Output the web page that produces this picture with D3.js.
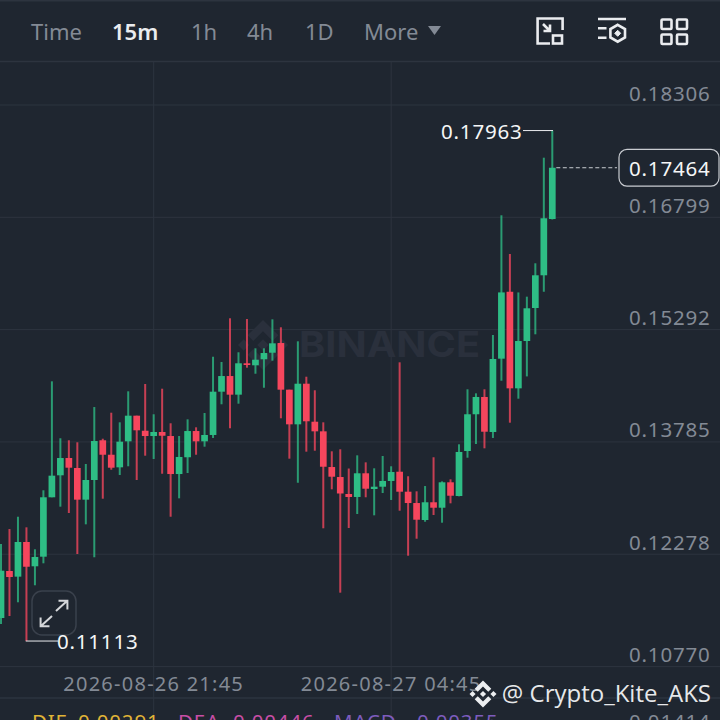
<!DOCTYPE html>
<html>
<head>
<meta charset="utf-8">
<title>Candles</title>
<script src="https://cdn.jsdelivr.net/npm/d3@7"></script>
<style>
	html, body { margin: 0; padding: 0; background: #1f2630; }
	svg { display: block; }
	text { font-family: "Noto Sans", sans-serif; }
	.num { font-size: 20.5px; letter-spacing: 0.8px; }
</style>
</head>
<body>
<svg id="chart"></svg>
<script>
// 15m candles
const opens = [0.11422,0.12053,0.11977,0.12442,0.12116,0.12245,0.13042,0.13337,0.13569,0.13435,0.13010,0.13274,0.13807,0.13613,0.13444,0.13793,0.14137,0.13935,0.13864,0.13918,0.13864,0.13354,0.13579,0.13931,0.13793,0.13878,0.14459,0.14669,0.14419,0.14840,0.14813,0.14894,0.14982,0.15112,0.14486,0.14021,0.14566,0.14056,0.13927,0.13448,0.13314,0.13086,0.13046,0.13364,0.13153,0.13184,0.13261,0.13385,0.13117,0.12965,0.12737,0.12975,0.12902,0.13243,0.13059,0.13663,0.14156,0.14388,0.13918,0.14902,0.15800,0.14504,0.15139,0.15582,0.16021,0.16776];
const highs = [0.12415,0.12616,0.12781,0.12639,0.12344,0.13136,0.14598,0.13834,0.13807,0.13780,0.13489,0.14253,0.13828,0.14177,0.14048,0.14464,0.14137,0.14562,0.14156,0.14499,0.14035,0.13864,0.14088,0.13981,0.14173,0.14928,0.14857,0.15444,0.14988,0.15434,0.15041,0.15041,0.15430,0.15323,0.14486,0.15135,0.14660,0.14478,0.14048,0.13659,0.13686,0.13428,0.13605,0.13511,0.13431,0.13596,0.13458,0.14853,0.13324,0.13122,0.13193,0.13579,0.13256,0.13283,0.13753,0.14491,0.14437,0.14491,0.15220,0.16826,0.16307,0.15791,0.15734,0.16182,0.17599,0.17963];
const lows = [0.11342,0.11449,0.11633,0.11113,0.11861,0.12156,0.13042,0.12916,0.12831,0.12281,0.12679,0.12237,0.13023,0.13412,0.13341,0.13458,0.13274,0.13600,0.13556,0.13358,0.12781,0.13028,0.13368,0.13613,0.13721,0.13838,0.14290,0.13968,0.14298,0.14781,0.14700,0.14512,0.14875,0.14102,0.13560,0.13237,0.13654,0.13667,0.12626,0.13149,0.11762,0.12630,0.12818,0.13042,0.12800,0.13099,0.13006,0.12862,0.12258,0.12486,0.12714,0.12804,0.12701,0.12961,0.13055,0.13573,0.13757,0.13699,0.13838,0.14606,0.14043,0.14365,0.14664,0.15229,0.15800,0.16770];
const closes = [0.12057,0.11972,0.12442,0.12110,0.12241,0.13042,0.13332,0.13569,0.13439,0.13010,0.13274,0.13797,0.13613,0.13439,0.13788,0.14137,0.13941,0.13864,0.13918,0.13868,0.13354,0.13583,0.13931,0.13793,0.13878,0.14459,0.14669,0.14419,0.14840,0.14817,0.14888,0.14978,0.15108,0.14486,0.14021,0.14566,0.14062,0.13927,0.13452,0.13318,0.13093,0.13046,0.13364,0.13157,0.13184,0.13261,0.13381,0.13117,0.12965,0.12741,0.12975,0.12902,0.13243,0.13063,0.13650,0.14156,0.14388,0.13922,0.14898,0.15791,0.14504,0.15139,0.15578,0.16021,0.16786,0.17464];

const priceTicks = [0.18306, 0.16799, 0.15292, 0.13785, 0.12278, 0.10770];
const timeTickIndex = [18, 46];
const timeTickLabels = ["2026-08-26 21:45", "2026-08-27 04:45"];
const intervals = ["Time", "15m", "1h", "4h", "1D", "More"];
const macdLabels = ["DIF", "DEA", "MACD"];
const macdValues = ["0.00291", "0.00446", "0.00355"];
const macdAxisLabel = "0.01414";
const highLabel = "0.17963";
const lowLabel = "0.11113";
const lastLabel = "0.17464";

const width = 720;
const height = 720;
const bg = "#1f2630";
const gridColor = "#2d343f";
const muted = "#838a95";
const up = "#2ebd85";
const down = "#f6465d";

// binance mark, in its own 126.61 box
const logoPaths = [
	"M38.73,53.2,63.3,28.63,87.89,53.22l14.3-14.3L63.3,0,24.42,38.88Z",
	"M0,63.31,14.3,49l14.3,14.3L14.3,77.61Z",
	"M38.73,73.41,63.3,98,87.89,73.39,102.2,87.7,63.3,126.61,24.42,87.73Z",
	"M98,63.31l14.3-14.3,14.3,14.3-14.3,14.3Z",
	"M77.83,63.3,63.3,48.76,48.78,63.28,63.3,77.83Z"
];

const x = d3.scaleLinear().domain([0, opens.length - 1]).range([1, 552.3]);
const y = d3.scaleLinear().domain([0.18306, 0.10770]).range([105, 666.6]);

const svg = d3.select("#chart").attr("width", width).attr("height", height);

svg.append("rect").attr("width", width).attr("height", height).attr("fill", bg);
svg.append("rect").attr("width", width).attr("height", 1.5).attr("fill", "#2d343f");

function drawLogo(cx, cy, size, color) {
	const s = size / 126.61;
	const g = svg.append("g")
		.attr("transform", `translate(${cx - size / 2}, ${cy - size / 2}) scale(${s})`)
		.attr("fill", color);
	logoPaths.forEach((d) => g.append("path").attr("d", d));
	return g;
}

// panel borders
[61.5, 698].forEach((v) => {
	svg.append("line")
		.attr("x1", 0).attr("x2", width)
		.attr("y1", v).attr("y2", v)
		.attr("stroke", gridColor).attr("stroke-width", 1.5);
});

// grid
svg.selectAll(".hgrid")
	.data(priceTicks)
	.enter()
	.append("line")
	.attr("class", "hgrid")
	.attr("x1", 0).attr("x2", width)
	.attr("y1", (d) => y(d)).attr("y2", (d) => y(d))
	.attr("stroke", gridColor).attr("stroke-width", 1);

svg.selectAll(".vgrid")
	.data(timeTickIndex)
	.enter()
	.append("line")
	.attr("class", "vgrid")
	.attr("x1", (d) => x(d)).attr("x2", (d) => x(d))
	.attr("y1", 62).attr("y2", height)
	.attr("stroke", gridColor).attr("stroke-width", 1);

// big watermark
drawLogo(263, 345, 50, "#2a303c");
svg.append("text")
	.text("BINANCE")
	.attr("x", 299).attr("y", 357)
	.attr("textLength", 181)
	.attr("lengthAdjust", "spacingAndGlyphs")
	.attr("fill", "#2a303c")
	.style("font-family", "Inter")
	.style("font-weight", 700)
	.style("font-size", "36px");

// candles
const candles = svg.selectAll(".candle")
	.data(d3.range(opens.length))
	.enter()
	.append("g")
	.attr("class", "candle")
	.attr("fill", (i) => closes[i] >= opens[i] ? up : down)
	.attr("stroke", (i) => closes[i] >= opens[i] ? up : down);

candles.append("line")
	.attr("x1", (i) => x(i)).attr("x2", (i) => x(i))
	.attr("y1", (i) => y(highs[i])).attr("y2", (i) => y(lows[i]))
	.attr("stroke-width", 2)
	.attr("stroke-opacity", 0.78);

candles.append("rect")
	.attr("x", (i) => x(i) - 3.35)
	.attr("width", 6.7)
	.attr("y", (i) => y(Math.max(opens[i], closes[i])))
	.attr("height", (i) => Math.max(1.2, Math.abs(y(opens[i]) - y(closes[i]))))
	.attr("stroke", "none");

// price axis
svg.selectAll(".price-label")
	.data(priceTicks)
	.enter()
	.append("text")
	.attr("class", "price-label num")
	.text((d) => d.toFixed(5))
	.attr("x", 710.5)
	.attr("y", (d) => y(d) - 4.5)
	.attr("text-anchor", "end")
	.attr("fill", muted);

// time axis
svg.selectAll(".time-label")
	.data(timeTickIndex)
	.enter()
	.append("text")
	.attr("class", "time-label")
	.text((d, i) => timeTickLabels[i])
	.attr("x", (d) => x(d))
	.attr("y", 691)
	.attr("text-anchor", "middle")
	.attr("fill", muted)
	.style("font-size", "20px")
	.style("letter-spacing", "1.25px");

// interval tabs
const tabX = [31, 112, 191, 247, 305, 364];
svg.selectAll(".tab")
	.data(intervals)
	.enter()
	.append("text")
	.attr("class", "tab")
	.text((d) => d)
	.attr("x", (d, i) => tabX[i])
	.attr("y", 40)
	.attr("fill", (d) => d === "15m" ? "#eaecef" : muted)
	.style("font-weight", (d) => d === "15m" ? 600 : 400)
	.style("font-size", "22px");
svg.append("path")
	.attr("d", "M428,26 L441,26 L434.5,35 Z")
	.attr("fill", muted);

// toolbar icons
const icons = svg.append("g")
	.attr("fill", "none")
	.attr("stroke", "#eaecef")
	.attr("stroke-width", 2.6);
icons.append("path").attr("d", "M550,43.5 H537.6 V18.5 H562.6 V30");
icons.append("rect").attr("x", 553).attr("y", 35.5).attr("width", 9).attr("height", 8);
icons.append("path").attr("d", "M543,24 L550,31 M550,24.5 V31 H543.5");
icons.append("path").attr("d", "M598,19 H626 M598,28.3 H606.5 M598,37.7 H606.5");
icons.append("path").attr("d", "M617.7,24.8 L625,29 V37.5 L617.7,41.7 L610.4,37.5 V29 Z");
icons.append("path").attr("d", "M617.7,30.3 L620.7,33.3 L617.7,36.3 L614.7,33.3 Z").attr("fill", "#eaecef").attr("stroke-width", 1);
[661.5, 677].forEach((gx) => {
	[19.5, 34.5].forEach((gy) => {
		icons.append("rect")
			.attr("x", gx).attr("y", gy)
			.attr("width", 10).attr("height", 9.5)
			.attr("rx", 1);
	});
});

// last price
const last = closes[closes.length - 1];
svg.append("line")
	.attr("x1", x(closes.length - 1) + 4).attr("x2", 617)
	.attr("y1", y(last)).attr("y2", y(last))
	.attr("stroke", "#c9ccd1").attr("stroke-width", 1)
	.attr("stroke-dasharray", "4 2.5");
svg.append("rect")
	.attr("x", 619).attr("y", y(last) - 18.3)
	.attr("width", 100).attr("height", 36.6)
	.attr("rx", 8)
	.attr("fill", bg)
	.attr("stroke", "#c9ccd1").attr("stroke-width", 1.2);
svg.append("text")
	.attr("class", "num")
	.text(lastLabel)
	.attr("x", 710.5).attr("y", y(last) + 8)
	.attr("text-anchor", "end")
	.attr("fill", "#f5f6f7");

// high and low markers
const hi = d3.max(highs);
const lo = d3.min(lows);
const hiX = x(highs.indexOf(hi));
const loX = x(lows.indexOf(lo));
svg.append("line")
	.attr("x1", 523).attr("x2", hiX + 0.7)
	.attr("y1", y(hi)).attr("y2", y(hi))
	.attr("stroke", "#eaecef").attr("stroke-width", 1);
svg.append("text")
	.attr("class", "num")
	.text(highLabel)
	.attr("x", 522.5).attr("y", y(hi) + 8)
	.attr("text-anchor", "end")
	.attr("fill", "#f5f6f7");

// expand button
svg.append("rect")
	.attr("x", 32).attr("y", 591)
	.attr("width", 44).attr("height", 44)
	.attr("rx", 10)
	.attr("fill", bg)
	.attr("stroke", "#3a414c").attr("stroke-width", 1.5);
svg.append("path")
	.attr("d", "M56,611 L67,601 M58.5,600.8 H67.4 V609.5 M52,616 L41,626 M49.5,626.2 H40.6 V617.5")
	.attr("fill", "none")
	.attr("stroke", "#d5d7da").attr("stroke-width", 2);

svg.append("line")
	.attr("x1", loX - 0.7).attr("x2", 58)
	.attr("y1", y(lo)).attr("y2", y(lo))
	.attr("stroke", "#eaecef").attr("stroke-width", 1);
svg.append("text")
	.attr("class", "num")
	.text(lowLabel)
	.attr("x", 57).attr("y", y(lo) + 8)
	.attr("fill", "#f5f6f7");

// macd legend, cut by the bottom of the picture
const macdColors = ["#e0b437", "#c74ea6", "#7d5cbd"];
const macdX = [32, 178, 334];
const macdValueX = [78, 233, 417];
macdLabels.forEach((d, i) => {
	svg.append("text").text(d)
		.attr("class", "num")
		.attr("x", macdX[i]).attr("y", 729)
		.attr("fill", macdColors[i]);
	svg.append("text").text(macdValues[i])
		.attr("class", "num")
		.attr("x", macdValueX[i]).attr("y", 729)
		.attr("fill", macdColors[i]);
});
svg.append("text").text(macdAxisLabel)
	.attr("class", "num")
	.attr("x", 710.5).attr("y", 729)
	.attr("text-anchor", "end")
	.attr("fill", muted);

// author watermark
drawLogo(483, 694, 27, "#eceef0");
svg.append("text")
	.text("@ Crypto_Kite_AKS")
	.attr("x", 711).attr("y", 702)
	.attr("text-anchor", "end")
	.attr("fill", "#e6e8ea")
	.attr("stroke", "#14181f")
	.attr("stroke-width", 0.6)
	.attr("stroke-opacity", 0.5)
	.attr("paint-order", "stroke")
	.style("font-family", "Open Sans")
	.style("font-size", "24px");
</script>
</body>
</html>
